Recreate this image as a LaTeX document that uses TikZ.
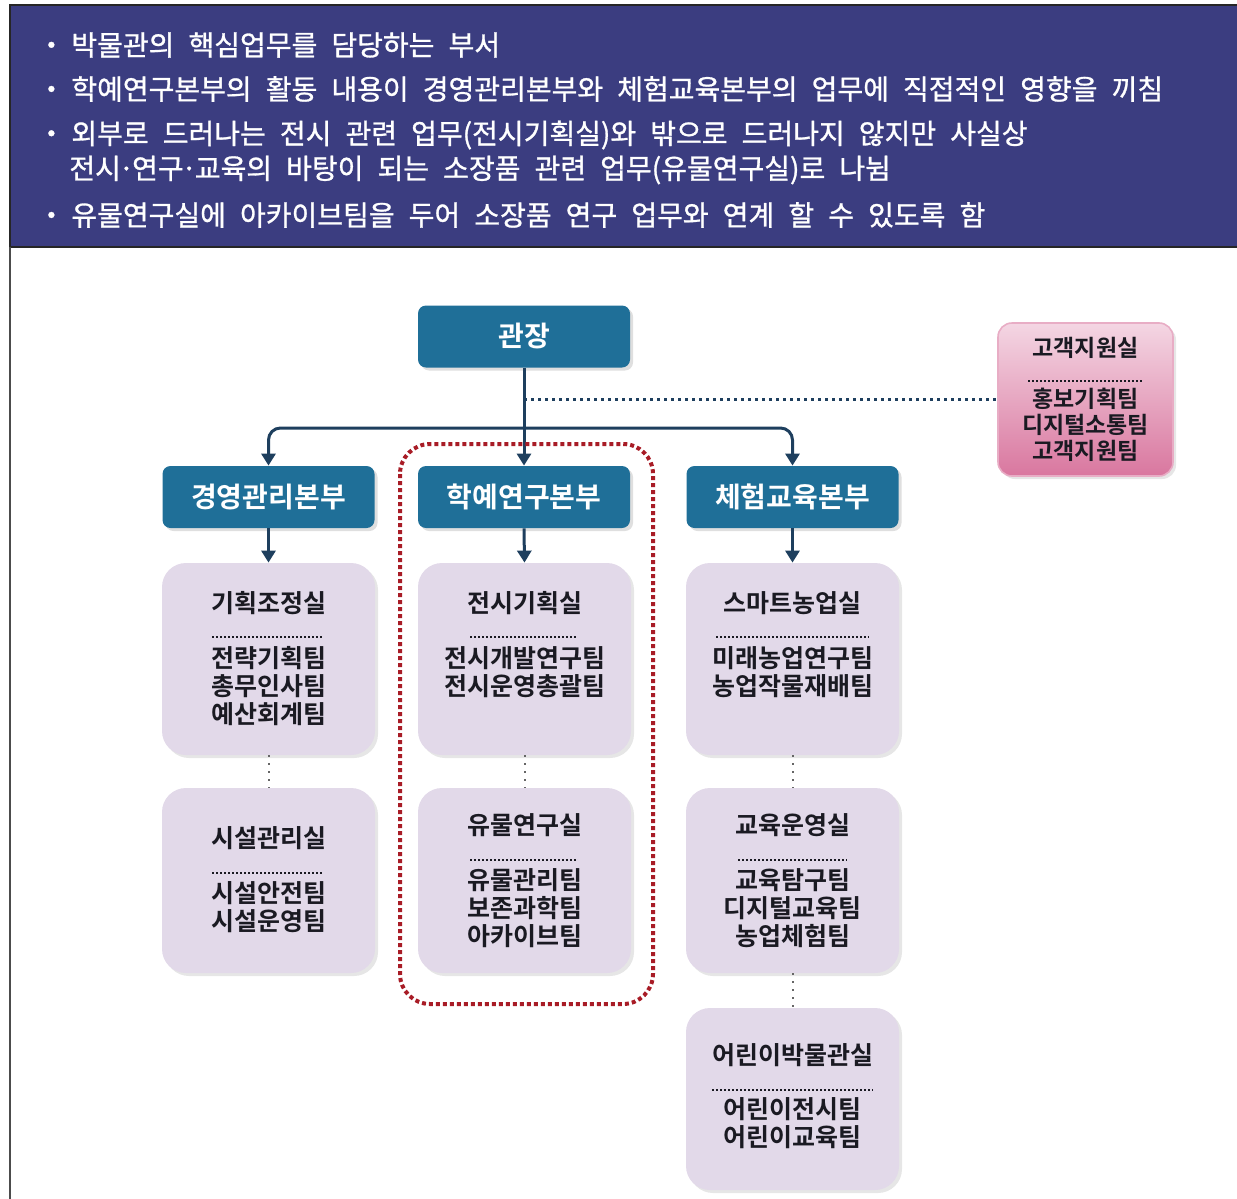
\documentclass[tikz,border=0pt]{standalone}
\usepackage{fontspec}
\setmainfont{Noto Sans CJK KR}[BoldFont={Noto Sans CJK KR Bold}]
\newfontfamily\bannerfont{Noto Sans CJK KR}[WordSpace=2.25, FakeBold=1]
\usetikzlibrary{arrows.meta, positioning, shadows}

\definecolor{bannerblue}{HTML}{3B3D80}
\definecolor{headteal}{HTML}{1F6F98}
\definecolor{linknavy}{HTML}{1E3F5E}
\definecolor{unitlilac}{HTML}{E2D9E9}
\definecolor{unittext}{HTML}{1A1A22}
\definecolor{custtop}{HTML}{F4D6E3}
\definecolor{custbottom}{HTML}{D9779F}
\definecolor{frame red}{HTML}{A81C26}

\newcommand{\middot}{\hbox to 0.4em{\hss·\hss}}

\begin{document}
\begin{tikzpicture}[x=0.5pt, y=-0.5pt,
    banner line/.style={anchor=west, inner sep=0pt, text=white, font=\bannerfont\fontsize{14pt}{16pt}\selectfont},
    head box/.style={fill=headteal, rounded corners=4pt, minimum width=106pt, minimum height=31pt,
        text=white, font=\bfseries\fontsize{14pt}{16pt}\selectfont,
        drop shadow={shadow xshift=1.5pt, shadow yshift=-1.5pt, opacity=0.25}},
    unit box/.style={fill=unitlilac, rounded corners=12pt, minimum width=106.5pt,
        drop shadow={shadow xshift=1.5pt, shadow yshift=-1.5pt, opacity=0.2}},
    unit text/.style={inner sep=0pt, align=center, text=unittext, font=\bfseries\fontsize{12.5pt}{14pt}\selectfont},
    link/.style={draw=linknavy, line width=1.5pt, rounded corners=6pt, -{Triangle[length=6pt, width=7pt]}},
    sep dots/.style={draw=unittext, line width=1.2pt, dash pattern=on 1pt off 1pt},
    gap dots/.style={draw=gray!80!black, line width=1pt, dash pattern=on 1pt off 3pt}]
    \useasboundingbox (0,0) rectangle (1237,1199);

    % banner
    \fill[bannerblue] (10,5) rectangle (1237,247);
    \draw[black!85, line width=1pt] (1237,5) -- (10,5) -- (10,247) -- (1237,247);
    \draw[black!70, line width=1.2pt] (10,247) -- (10,1199);
    \node[banner line] (bullet one) at (37,45) {・\hspace{3pt}박물관의 핵심업무를 담당하는 부서};
    \node[banner line] (bullet two) at (37,89) {・\hspace{3pt}학예연구본부의 활동 내용이 경영관리본부와 체험교육본부의 업무에 직접적인 영향을 끼침};
    \node[banner line] (bullet three) at (37,135) {・\hspace{3pt}외부로 드러나는 전시 관련 업무(전시기획실)와 밖으로 드러나지 않지만 사실상};
    \node[banner line] (bullet three more) at (69,170) {전시\middot 연구\middot 교육의 바탕이 되는 소장품 관련 업무(유물연구실)로 나뉨};
    \node[banner line] (bullet four) at (37,215) {・\hspace{3pt}유물연구실에 아카이브팀을 두어 소장품 연구 업무와 연계 할 수 있도록 함};

    % top of the chart
    \node[head box] (chief) at (524,336.5) {관장};
    \node[head box] (mgmt) at (268.5,497) {경영관리본부};
    \node[head box] (acad) at (524,497) {학예연구본부};
    \node[head box] (exper) at (792.5,497) {체험교육본부};
    \node[draw=custbottom!60, line width=0.8pt, top color=custtop, bottom color=custbottom, rounded corners=7pt,
        minimum width=87.5pt, minimum height=76.5pt,
        drop shadow={shadow xshift=1.5pt, shadow yshift=-1.5pt, opacity=0.2}] (cust) at (1085.5,399.5) {};
    \node[unit text, font=\bfseries\fontsize{11.5pt}{13pt}\selectfont] (cust title) at (1085.5,348) {고객지원실};
    \node[unit text, font=\bfseries\fontsize{11.5pt}{13pt}\selectfont] (cust teams) at (1085.5,425) {홍보기획팀\\디지털소통팀\\고객지원팀};
    \draw[sep dots] (1028,381) -- (1143,381);

    \coordinate (hub) at (524,428);
    \draw[link, -] (chief.south) -- (hub);
    \draw[link] (hub) -| (mgmt.north);
    \draw[link] (hub) -- (acad.north);
    \draw[link] (hub) -| (exper.north);
    \draw[draw=linknavy, line width=1.5pt, dash pattern=on 1.5pt off 2pt] (chief.south |- cust.west) -- (cust.west);

    % 경영관리본부
    \node[unit box, minimum height=96pt] (plan) at (268.5,659) {};
    \node[unit text] (plan title) at (268.5,603) {기획조정실};
    \node[unit text] (plan teams) at (268.5,686) {전략기획팀\\총무인사팀\\예산회계팀};
    \draw[sep dots] (212,637) -- (323,637);
    \node[unit box, minimum height=92.5pt] (facil) at (268.5,880.5) {};
    \node[unit text] (facil title) at (268.5,838) {시설관리실};
    \node[unit text] (facil teams) at (268.5,907) {시설안전팀\\시설운영팀};
    \draw[sep dots] (212,873) -- (323,873);

    % 학예연구본부
    \node[unit box, minimum height=96pt] (exhib) at (524.5,659) {};
    \node[unit text] (exhib title) at (524.5,603) {전시기획실};
    \node[unit text] (exhib teams) at (524.5,672) {전시개발연구팀\\전시운영총괄팀};
    \draw[sep dots] (470,637) -- (578,637);
    \node[unit box, minimum height=92.5pt] (relic) at (524.5,880.5) {};
    \node[unit text] (relic title) at (524.5,825) {유물연구실};
    \node[unit text] (relic teams) at (524.5,908) {유물관리팀\\보존과학팀\\아카이브팀};
    \draw[sep dots] (470,860) -- (578,860);

    % 체험교육본부
    \node[unit box, minimum height=96pt] (farm) at (792.5,659) {};
    \node[unit text] (farm title) at (792.5,603) {스마트농업실};
    \node[unit text] (farm teams) at (792.5,672) {미래농업연구팀\\농업작물재배팀};
    \draw[sep dots] (716,637) -- (869,637);
    \node[unit box, minimum height=92.5pt] (edu) at (792.5,880.5) {};
    \node[unit text] (edu title) at (792.5,825) {교육운영실};
    \node[unit text] (edu teams) at (792.5,908) {교육탐구팀\\디지털교육팀\\농업체험팀};
    \draw[sep dots] (738,860) -- (847,860);
    \node[unit box, minimum height=91pt] (kids) at (792.5,1099) {};
    \node[unit text] (kids title) at (792.5,1055) {어린이박물관실};
    \node[unit text] (kids teams) at (792.5,1123.5) {어린이전시팀\\어린이교육팀};
    \draw[sep dots] (712,1090) -- (873,1090);

    \draw[link] (mgmt.south) -- (plan.north);
    \draw[link] (acad.south) -- (exhib.north);
    \draw[link] (exper.south) -- (farm.north);
    \draw[gap dots] (plan.south) -- (facil.north);
    \draw[gap dots] (exhib.south) -- (relic.north);
    \draw[gap dots] (farm.south) -- (edu.north);
    \draw[gap dots] (edu.south) -- (kids.north);

    % 학예연구본부 group
    \draw[frame red, line width=2pt, dash pattern=on 2pt off 1.5pt, rounded corners=15pt] (400,444) rectangle (653,1004);
\end{tikzpicture}
\end{document}
